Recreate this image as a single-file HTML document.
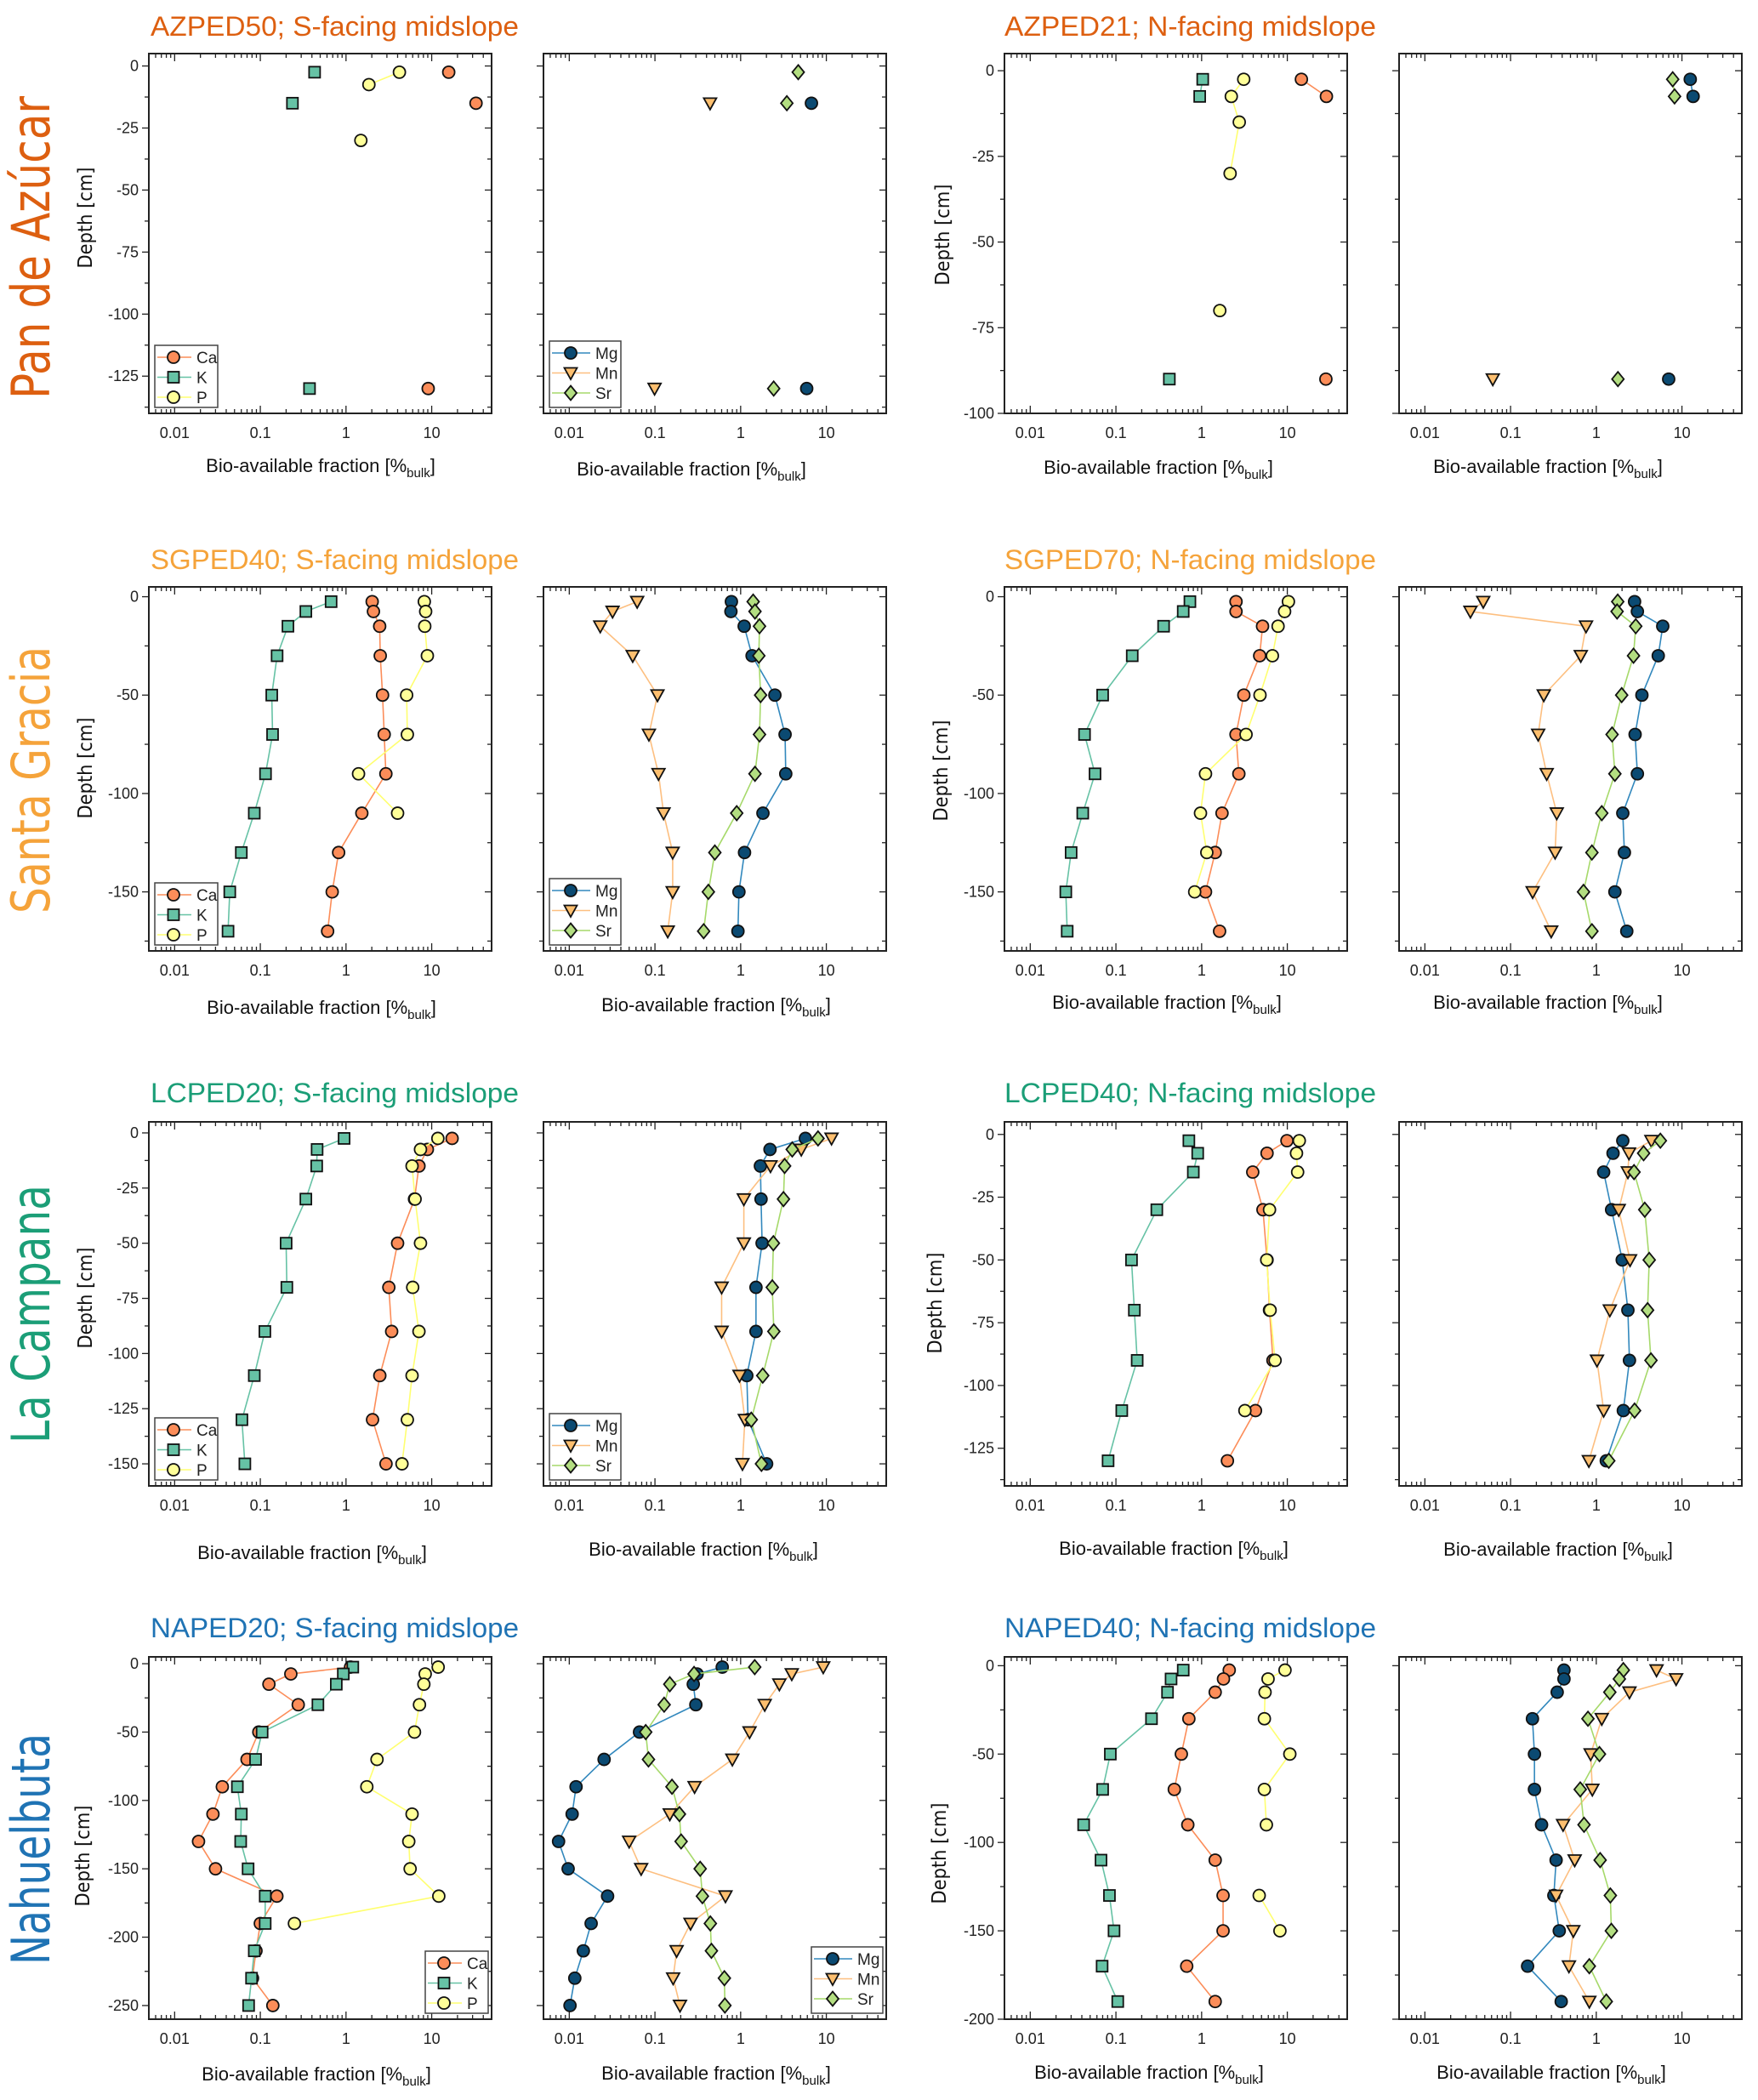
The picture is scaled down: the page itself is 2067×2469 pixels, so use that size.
<!DOCTYPE html>
<html><head><meta charset="utf-8"><title>Bio-available fraction depth profiles</title>
<style>
html,body{margin:0;padding:0;background:#fff;}
svg{display:block;font-family:"Liberation Sans",sans-serif;}
</style></head>
<body>
<svg id="fig" xmlns="http://www.w3.org/2000/svg" width="2067" height="2469" viewBox="0 0 2067 2469">
<rect x="0" y="0" width="2067" height="2469" fill="#fff"/>
</svg>
<script>
// ===== DATA =====
// AZPED50
const azped50Depth = [-2.5,-7.5,-15,-30,-130];
const azped50Ca = [15.8,null,32.9,null,9.1];
const azped50K  = [0.43,null,0.237,null,0.375];
const azped50P  = [4.2,1.85,null,1.49,null];
const azped50Mg = [null,null,6.7,null,5.9];
const azped50Mn = [null,null,0.44,null,0.099];
const azped50Sr = [4.7,null,3.46,null,2.43];
// AZPED21
const azped21Depth = [-2.5,-7.5,-15,-30,-50,-70,-90];
const azped21Ca = [14.6,28.6,null,null,null,null,28.2];
const azped21K  = [1.03,0.95,null,null,null,null,0.42];
const azped21P  = [3.1,2.22,2.75,2.15,null,1.63,null];
const azped21Mg = [12.5,13.5,null,null,null,null,7.0];
const azped21Mn = [null,null,null,null,null,null,0.062];
const azped21Sr = [7.8,8.2,null,null,null,null,1.79];
// SGPED40
const sgped40Depth = [-2.5,-7.5,-15,-30,-50,-70,-90,-110,-130,-150,-170];
const sgped40Ca = [2.02,2.09,2.47,2.51,2.67,2.79,2.92,1.53,0.82,0.69,0.61];
const sgped40K  = [0.67,0.34,0.21,0.157,0.136,0.139,0.115,0.085,0.060,0.044,0.042];
const sgped40P  = [8.2,8.5,8.3,8.9,5.1,5.2,1.40,4.0,null,null,null];
const sgped40Mg = [0.78,0.77,1.10,1.36,2.51,3.30,3.36,1.82,1.11,0.955,0.93];
const sgped40Mn = [0.062,0.032,0.023,0.055,0.107,0.085,0.110,0.126,0.161,0.161,0.141];
const sgped40Sr = [1.40,1.47,1.66,1.63,1.71,1.66,1.47,0.90,0.50,0.42,0.37];
// SGPED70
const sgped70Depth = [-2.5,-7.5,-15,-30,-50,-70,-90,-110,-130,-150,-170];
const sgped70Ca = [2.52,2.52,5.14,4.76,3.11,2.52,2.72,1.73,1.44,1.11,1.62];
const sgped70K  = [0.73,0.61,0.36,0.155,0.070,0.043,0.057,0.041,0.030,0.026,0.027];
const sgped70P  = [10.3,9.3,7.8,6.7,4.8,3.3,1.11,0.97,1.15,0.83,null];
const sgped70Mg = [2.80,3.02,5.97,5.29,3.41,2.84,3.02,2.04,2.13,1.65,2.27];
const sgped70Mn = [0.048,0.034,0.76,0.66,0.244,0.21,0.264,0.346,0.331,0.181,0.298];
const sgped70Sr = [1.78,1.75,2.89,2.72,1.98,1.53,1.65,1.16,0.89,0.71,0.89];
// LCPED20
const lcped20Depth = [-2.5,-7.5,-15,-30,-50,-70,-90,-110,-130,-150];
const lcped20Ca = [17.3,8.9,7.1,6.3,4.0,3.16,3.41,2.48,2.04,2.93];
const lcped20K  = [0.95,0.46,0.455,0.34,0.20,0.204,0.113,0.085,0.061,0.066];
const lcped20P  = [11.8,7.4,5.9,6.4,7.4,6.0,7.1,5.9,5.2,4.5];
const lcped20Mg = [5.7,2.2,1.70,1.73,1.78,1.51,1.51,1.18,1.22,2.01];
const lcped20Mn = [11.5,5.1,2.23,1.09,1.09,0.60,0.60,0.97,1.12,1.05];
const lcped20Sr = [8.0,4.0,3.26,3.16,2.41,2.34,2.44,1.81,1.33,1.75];
// LCPED40
const lcped40Depth = [-2.5,-7.5,-15,-30,-50,-70,-90,-110,-130];
const lcped40Ca = [9.9,5.8,3.95,5.2,5.8,6.2,6.8,4.25,2.0];
const lcped40K  = [0.71,0.90,0.80,0.30,0.152,0.164,0.177,0.117,0.081];
const lcped40P  = [13.8,12.8,13.2,6.2,5.75,6.3,7.2,3.2,null];
const lcped40Mg = [2.04,1.57,1.22,1.51,2.01,2.34,2.44,2.07,1.31];
const lcped40Mn = [4.4,2.41,2.34,1.83,2.48,1.44,1.02,1.22,0.82];
const lcped40Sr = [5.6,3.57,2.76,3.68,4.15,3.97,4.35,2.8,1.40];
// NAPED20
const naped20Depth = [-2.5,-7.5,-15,-30,-50,-70,-90,-110,-130,-150,-170,-190,-210,-230,-250];
const naped20Ca = [1.13,0.227,0.126,0.277,0.096,0.070,0.036,0.028,0.019,0.030,0.156,0.100,0.089,0.081,0.140];
const naped20K  = [1.20,0.93,0.77,0.47,0.105,0.088,0.054,0.060,0.059,0.072,0.114,0.114,0.085,0.079,0.073];
const naped20P  = [11.9,8.4,8.1,7.2,6.3,2.30,1.75,5.9,5.4,5.6,12.1,0.25,null,null,null];
const naped20Mg = [0.61,0.31,0.28,0.30,0.066,0.0255,0.012,0.0108,0.0075,0.0097,0.028,0.018,0.0146,0.0116,0.0102];
const naped20Mn = [9.2,3.95,2.83,1.91,1.27,0.80,0.29,0.149,0.050,0.069,0.665,0.26,0.179,0.163,0.196];
const naped20Sr = [1.46,0.286,0.149,0.128,0.078,0.084,0.158,0.193,0.202,0.337,0.358,0.443,0.456,0.646,0.655];
// NAPED40
const naped40Depth = [-2.5,-7.5,-15,-30,-50,-70,-90,-110,-130,-150,-170,-190];
const naped40Ca = [2.10,1.80,1.44,0.71,0.58,0.48,0.69,1.44,1.78,1.78,0.67,1.44];
const naped40K  = [0.61,0.44,0.40,0.26,0.086,0.070,0.042,0.067,0.084,0.095,0.069,0.105];
const naped40P  = [9.4,5.96,5.5,5.4,10.7,5.4,5.7,null,4.7,8.2,null,null];
const naped40Mg = [0.42,0.42,0.35,0.18,0.19,0.19,0.23,0.34,0.32,0.37,0.158,0.39];
const naped40Mn = [5.05,8.55,2.44,1.16,0.86,0.90,0.41,0.56,0.34,0.54,0.48,0.83];
const naped40Sr = [2.07,1.86,1.44,0.80,1.09,0.65,0.72,1.11,1.46,1.50,0.83,1.31];

const xTickValues = [0.01,0.1,1,10];
const xTickLabels = ["0.01","0.1","1","10"];
const regionNames = ["Pan de Azúcar","Santa Gracia","La Campana","Nahuelbuta"];
const titlesLeft  = ["AZPED50; S-facing midslope","SGPED40; S-facing midslope","LCPED20; S-facing midslope","NAPED20; S-facing midslope"];
const titlesRight = ["AZPED21; N-facing midslope","SGPED70; N-facing midslope","LCPED40; N-facing midslope","NAPED40; N-facing midslope"];

// ===== STYLE / LAYOUT =====
const NS = "http://www.w3.org/2000/svg";
const svg = document.getElementById('fig');
const XMIN = 0.005, XMAX = 50, PW = 403;
const STY = {
  Ca:{shape:'circle', fill:'#fc8d59', line:'#fc8d59'},
  K:{shape:'square', fill:'#66c2a5', line:'#66c2a5'},
  P:{shape:'circle', fill:'#ffff99', line:'#ffff70'},
  Mg:{shape:'circle', fill:'#0b4a72', line:'#3288bd'},
  Mn:{shape:'tri', fill:'#fdbf6f', line:'#fdbf80'},
  Sr:{shape:'diamond', fill:'#b3de81', line:'#a6d96a'}
};
const regionColors = ['#dd5f10','#f5a33a','#1b9e77','#1f73b4'];
const rows = [
  {top:63, bot:486, titleY:42, regionY:291, regionLen:356},
  {top:690, bot:1118, titleY:669, regionY:917, regionLen:314},
  {top:1319, bot:1747, titleY:1296, regionY:1545, regionLen:304},
  {top:1948, bot:2374, titleY:1925, regionY:2174, regionLen:272}
];
const panels = [
 {row:0,x:175,ymin:-140,major:25,labels:true,depth:azped50Depth,ser:[['Ca',azped50Ca],['K',azped50K],['P',azped50P]],leg:'bl',xl:[377,548],dl:[100,256],name:'azped50-ckp'},
 {row:0,x:639,ymin:-140,major:25,labels:false,depth:azped50Depth,ser:[['Mg',azped50Mg],['Mn',azped50Mn],['Sr',azped50Sr]],leg:'bl',xl:[813,552],name:'azped50-mgmnsr'},
 {row:0,x:1181,ymin:-100,major:25,labels:true,depth:azped21Depth,ser:[['Ca',azped21Ca],['K',azped21K],['P',azped21P]],leg:null,xl:[1362,550],dl:[1108,276],name:'azped21-ckp'},
 {row:0,x:1645,ymin:-100,major:25,labels:false,depth:azped21Depth,ser:[['Mg',azped21Mg],['Mn',azped21Mn],['Sr',azped21Sr]],leg:null,xl:[1820,549],name:'azped21-mgmnsr'},
 {row:1,x:175,ymin:-180,major:50,labels:true,depth:sgped40Depth,ser:[['Ca',sgped40Ca],['K',sgped40K],['P',sgped40P]],leg:'bl',xl:[378,1185],dl:[100,903],name:'sgped40-ckp'},
 {row:1,x:639,ymin:-180,major:50,labels:false,depth:sgped40Depth,ser:[['Mg',sgped40Mg],['Mn',sgped40Mn],['Sr',sgped40Sr]],leg:'bl',xl:[842,1182],name:'sgped40-mgmnsr'},
 {row:1,x:1181,ymin:-180,major:50,labels:true,depth:sgped70Depth,ser:[['Ca',sgped70Ca],['K',sgped70K],['P',sgped70P]],leg:null,xl:[1372,1179],dl:[1106,906],name:'sgped70-ckp'},
 {row:1,x:1645,ymin:-180,major:50,labels:false,depth:sgped70Depth,ser:[['Mg',sgped70Mg],['Mn',sgped70Mn],['Sr',sgped70Sr]],leg:null,xl:[1820,1179],name:'sgped70-mgmnsr'},
 {row:2,x:175,ymin:-160,major:25,labels:true,depth:lcped20Depth,ser:[['Ca',lcped20Ca],['K',lcped20K],['P',lcped20P]],leg:'bl',xl:[367,1826],dl:[100,1526],name:'lcped20-ckp'},
 {row:2,x:639,ymin:-160,major:25,labels:false,depth:lcped20Depth,ser:[['Mg',lcped20Mg],['Mn',lcped20Mn],['Sr',lcped20Sr]],leg:'bl',xl:[827,1822],name:'lcped20-mgmnsr'},
 {row:2,x:1181,ymin:-140,major:25,labels:true,depth:lcped40Depth,ser:[['Ca',lcped40Ca],['K',lcped40K],['P',lcped40P]],leg:null,xl:[1380,1821],dl:[1099,1532],name:'lcped40-ckp'},
 {row:2,x:1645,ymin:-140,major:25,labels:false,depth:lcped40Depth,ser:[['Mg',lcped40Mg],['Mn',lcped40Mn],['Sr',lcped40Sr]],leg:null,xl:[1832,1822],name:'lcped40-mgmnsr'},
 {row:3,x:175,ymin:-260,major:50,labels:true,depth:naped20Depth,ser:[['Ca',naped20Ca],['K',naped20K],['P',naped20P]],leg:'br',xl:[372,2439],dl:[97,2182],name:'naped20-ckp'},
 {row:3,x:639,ymin:-260,major:50,labels:false,depth:naped20Depth,ser:[['Mg',naped20Mg],['Mn',naped20Mn],['Sr',naped20Sr]],leg:'br',xl:[842,2438],name:'naped20-mgmnsr'},
 {row:3,x:1181,ymin:-200,major:50,labels:true,depth:naped40Depth,ser:[['Ca',naped40Ca],['K',naped40K],['P',naped40P]],leg:null,xl:[1351,2437],dl:[1104,2179],name:'naped40-ckp'},
 {row:3,x:1645,ymin:-200,major:50,labels:false,depth:naped40Depth,ser:[['Mg',naped40Mg],['Mn',naped40Mn],['Sr',naped40Sr]],leg:null,xl:[1824,2437],name:'naped40-mgmnsr'}
];

function mk(tag, attrs, parent){
  const e = document.createElementNS(NS, tag);
  for (const k in attrs) e.setAttribute(k, attrs[k]);
  (parent || svg).appendChild(e);
  return e;
}
function marker(shape, x, y, fill, parent){
  let el;
  if (shape === 'circle') el = mk('circle',{cx:x,cy:y,r:7,fill:fill,stroke:'#111','stroke-width':1.8},parent);
  else if (shape === 'square') el = mk('rect',{x:x-6.5,y:y-6.5,width:13,height:13,fill:fill,stroke:'#111','stroke-width':1.8},parent);
  else if (shape === 'tri') el = mk('polygon',{points:(x-7.5)+','+(y-6)+' '+(x+7.5)+','+(y-6)+' '+x+','+(y+7.5),fill:fill,stroke:'#111','stroke-width':1.8,'stroke-linejoin':'miter'},parent);
  else el = mk('polygon',{points:x+','+(y-8.5)+' '+(x+7)+','+y+' '+x+','+(y+8.5)+' '+(x-7)+','+y,fill:fill,stroke:'#111','stroke-width':1.8},parent);
  return el;
}

// Row titles / region labels
rows.forEach((r, i) => {
  const reg = mk('text',{x:0,y:0,transform:'translate(58,'+r.regionY+') rotate(-90)','text-anchor':'middle','font-size':62,'font-family':'"DejaVu Sans","Liberation Sans",sans-serif',fill:regionColors[i],textLength:r.regionLen,lengthAdjust:'spacingAndGlyphs'});
  reg.textContent = regionNames[i];
  
  
  const t1 = mk('text',{x:177,y:r.titleY,'font-size':32,fill:regionColors[i],textLength:433,lengthAdjust:'spacingAndGlyphs'});
  t1.textContent = titlesLeft[i];
  
  
  const t2 = mk('text',{x:1181,y:r.titleY,'font-size':32,fill:regionColors[i],textLength:437,lengthAdjust:'spacingAndGlyphs'});
  t2.textContent = titlesRight[i];
  
  
});

panels.forEach(p => {
  const r = rows[p.row];
  const top = r.top, bot = r.bot, x0 = p.x, x1 = p.x + PW, ymax = 5;
  const g = mk('g',{});
  
  
  const xs = v => x0 + (Math.log10(v) - Math.log10(XMIN)) / (Math.log10(XMAX) - Math.log10(XMIN)) * PW;
  const ys = d => top + (ymax - d) / (ymax - p.ymin) * (bot - top);

  for (let n = -3; n <= 1; n++) {
    for (let k = 1; k <= 9; k++) {
      const v = k * Math.pow(10, n);
      if (v < XMIN || v > XMAX) continue;
      const X = xs(v), L = k === 1 ? 9 : 5;
      mk('line',{x1:X,x2:X,y1:top,y2:top+L,stroke:'#222','stroke-width':1.3},g);
      mk('line',{x1:X,x2:X,y1:bot,y2:bot-L,stroke:'#222','stroke-width':1.3},g);
    }
  }
  xTickValues.forEach((v, i) => {
    const t = mk('text',{x:xs(v),y:bot+29,'text-anchor':'middle','font-size':18,fill:'#222'},g);
    t.textContent = xTickLabels[i];
    
    
  });
  const half = p.major / 2;
  for (let d = 0; d >= p.ymin; d -= half) {
    const Y = ys(d), isMaj = Math.abs(d % p.major) < 1e-6, L = isMaj ? 8 : 5;
    mk('line',{x1:x0-L,x2:x0,y1:Y,y2:Y,stroke:'#222','stroke-width':1.3},g);
    mk('line',{x1:x1-L,x2:x1,y1:Y,y2:Y,stroke:'#222','stroke-width':1.3},g);
    if (isMaj && p.labels) {
      const t = mk('text',{x:x0-12,y:Y+6,'text-anchor':'end','font-size':18,fill:'#222'},g);
      t.textContent = d === 0 ? '0' : String(d);
      
      
    }
  }
  const fr = mk('rect',{x:x0,y:top,width:PW,height:bot-top,fill:'none',stroke:'#222','stroke-width':2},g);
  
  

  const xl = mk('text',{x:p.xl[0],y:p.xl[1]+7,'text-anchor':'middle','font-size':22,fill:'#111'},g);
  xl.appendChild(document.createTextNode('Bio-available fraction [%'));
  const sub = mk('tspan',{'font-size':15,dy:6},xl);
  sub.textContent = 'bulk';
  const cl = mk('tspan',{dy:-6},xl);
  cl.textContent = ']';
  
  
  if (p.dl) {
    const dl = mk('text',{x:0,y:0,transform:'translate('+(p.dl[0]+8)+','+p.dl[1]+') rotate(-90)','text-anchor':'middle','font-size':23,fill:'#111','font-family':'"DejaVu Sans","Liberation Sans",sans-serif',textLength:119,lengthAdjust:'spacingAndGlyphs'},g);
    dl.textContent = 'Depth [cm]';
    
    
  }

  p.ser.forEach(([nm, vals]) => {
    const st = STY[nm];
    const sg = mk('g',{},g);
    
    
    for (let i = 0; i < vals.length - 1; i++) {
      if (vals[i] == null || vals[i+1] == null) continue;
      const ln = mk('line',{x1:xs(vals[i]),y1:ys(p.depth[i]),x2:xs(vals[i+1]),y2:ys(p.depth[i+1]),stroke:st.line,'stroke-width':1.6},sg);
      
      
    }
    vals.forEach((v, i) => {
      if (v == null) return;
      const m = marker(st.shape, xs(v), ys(p.depth[i]), st.fill, sg);
      
      
    });
  });

  if (p.leg) {
    const wide = p.ser[0][0] === 'Mg';
    const bw = wide ? 84 : 74, bh = wide ? 78 : 73;
    const bx = p.leg === 'bl' ? x0 + 7 : x1 - 4 - bw;
    const by = bot - 7 - bh;
    const lg = mk('g',{},g);
    
    
    mk('rect',{x:bx,y:by,width:bw,height:bh,fill:'#fff',stroke:'#444','stroke-width':1.5},lg);
    p.ser.forEach(([nm], i) => {
      const st = STY[nm];
      const yy = by + 14 + i * 23.5;
      const lx0 = bx + 3, lx1 = bx + (wide ? 48 : 43), mx = bx + (wide ? 25 : 22);
      mk('line',{x1:lx0,x2:lx1,y1:yy,y2:yy,stroke:st.line,'stroke-width':1.6},lg);
      marker(st.shape, mx, yy, st.fill, lg);
      const t = mk('text',{x:bx+(wide?54:49),y:yy+7,'font-size':19,fill:'#222'},lg);
      t.textContent = nm;
      
      
    });
  }
});
</script>
</body></html>
